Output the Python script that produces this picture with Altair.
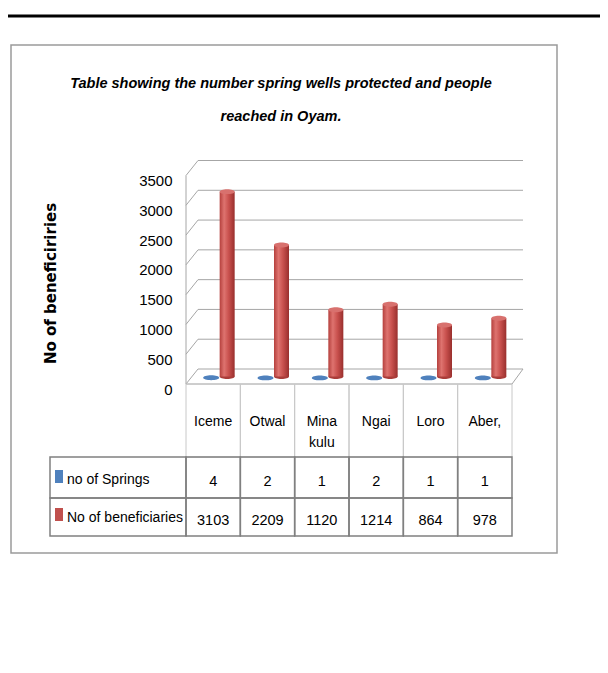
import altair as alt
import pandas as pd

categories = ["Iceme", "Otwal", "Mina kulu", "Ngai", "Loro", "Aber,"]
springs = [4, 2, 1, 2, 1, 1]
beneficiaries = [3103, 2209, 1120, 1214, 864, 978]
series_names = ["no of Springs", "No of beneficiaries"]
y_ticks = [0, 500, 1000, 1500, 2000, 2500, 3000, 3500]
title_lines = ["Table showing the number spring wells protected and people", "reached in Oyam."]
y_title = "No of beneficiriries"

FONT = "Liberation Sans, Arial, sans-serif"
BLUE = "#4f81bd"
RED_TOP = "#d8716e"
RED_BASE = "#a93c39"
GRID = "#a6a6a6"
D = 7.5  # half depth of the 3D floor

df = pd.DataFrame({
    "category": categories,
    "springs": springs,
    "beneficiaries": beneficiaries,
    "label": [c.replace(" ", "\n") for c in categories],
})
ticks_df = pd.DataFrame({"v": y_ticks})
one = pd.DataFrame({"k": [0]})
title_df = pd.DataFrame({"t": ["\n".join(title_lines)]})

xs = alt.Scale(domain=categories, range=[184, 510], paddingInner=0, paddingOuter=0)
ys = alt.Scale(domain=[0, 3500], range=[368.5, 160], nice=False, zero=False)
X = alt.X("category:N", sort=categories, scale=xs, axis=None)

y_axis = alt.Axis(
    values=y_ticks, format="d", orient="left", offset=-178, domain=False, ticks=False, grid=False,
    labelPadding=14, labelOffset=12.5, labelFont=FONT, labelFontSize=15, labelColor="black",
    title=y_title, titleAngle=270, titleX=-136, titleY=275, titleAlign="center",
    titleBaseline="middle", titleFont="DejaVu Sans", titleFontWeight="bold",
    titleFontSize=15, titleColor="black",
)


def Yf(field):
    return alt.Y(field, scale=ys, axis=y_axis)


def Yd(value):
    return alt.Y(datum=value, scale=ys, axis=y_axis)


ELL_R = "M-1,0A1,0.33 0 1,0 1,0A1,0.33 0 1,0 -1,0Z"
ELL_B = "M-1,0A1,0.3 0 1,0 1,0A1,0.3 0 1,0 -1,0Z"

cyl = alt.Gradient(
    gradient="linear", x1=0, x2=1, y1=0, y2=0,
    stops=[alt.GradientStop(offset=0, color="#b5403d"),
           alt.GradientStop(offset=0.3, color="#de736f"),
           alt.GradientStop(offset=0.6, color="#c9514e"),
           alt.GradientStop(offset=1, color="#992f2d")],
)

box = alt.Chart(one).mark_rect(fillOpacity=0, stroke="#9a9a9a", strokeWidth=1.5).encode(
    x=alt.value(3), x2=alt.value(549), y=alt.value(37), y2=alt.value(545))
topline = alt.Chart(one).mark_rule(color="black", strokeWidth=3).encode(
    x=alt.value(0), x2=alt.value(592), y=alt.value(8))
title = alt.Chart(title_df).mark_text(
    font=FONT, fontSize=14.5, fontWeight="bold", fontStyle="italic", lineBreak="\n",
    lineHeight=33, align="center", baseline="alphabetic", color="black").encode(
    x=alt.value(273), y=alt.value(80), text="t:N")

grid_back = alt.Chart(ticks_df).mark_rule(color=GRID, strokeWidth=1, yOffset=-D).encode(
    y=Yf("v:Q"), x=alt.value(190), x2=alt.value(515))
grid_slant = alt.Chart(ticks_df).mark_rule(color=GRID, strokeWidth=1, yOffset=D, y2Offset=-D).encode(
    y=Yf("v:Q"), y2=alt.Y2("v:Q"), x=alt.value(178), x2=alt.value(190))
front_edge = alt.Chart(one).mark_rule(color=GRID, strokeWidth=1, yOffset=D, y2Offset=D).encode(
    y=Yd(0), y2=alt.Y2(datum=3500), x=alt.value(178))
floor_front = alt.Chart(one).mark_rule(color=GRID, strokeWidth=1, yOffset=D).encode(
    y=Yd(0), x=alt.value(178), x2=alt.value(504))
floor_right = alt.Chart(one).mark_rule(color=GRID, strokeWidth=1, yOffset=D, y2Offset=-D).encode(
    y=Yd(0), y2=alt.Y2(datum=0), x=alt.value(504), x2=alt.value(515))

base = alt.Chart(df)
head_cells = base.mark_rect(fillOpacity=0, stroke="#c8c8c8", strokeWidth=1, xOffset=-6, x2Offset=-6).encode(
    x=X, y=alt.value(376), y2=alt.value(449))
row2_cells = base.mark_rect(fillOpacity=0, stroke="#808080", strokeWidth=1.5, xOffset=-6, x2Offset=-6).encode(
    x=X, y=alt.value(449), y2=alt.value(490))
row3_cells = base.mark_rect(fillOpacity=0, stroke="#808080", strokeWidth=1.5, xOffset=-6, x2Offset=-6).encode(
    x=X, y=alt.value(490), y2=alt.value(528))
leg_cell1 = alt.Chart(one).mark_rect(fillOpacity=0, stroke="#808080", strokeWidth=1.5).encode(
    x=alt.value(42), x2=alt.value(178), y=alt.value(449), y2=alt.value(490))
leg_cell2 = alt.Chart(one).mark_rect(fillOpacity=0, stroke="#808080", strokeWidth=1.5).encode(
    x=alt.value(42), x2=alt.value(178), y=alt.value(490), y2=alt.value(528))
sq1 = alt.Chart(one).mark_rect(color=BLUE).encode(
    x=alt.value(47), x2=alt.value(55), y=alt.value(462), y2=alt.value(475))
sq2 = alt.Chart(one).mark_rect(color="#c0504d").encode(
    x=alt.value(47), x2=alt.value(55), y=alt.value(500), y2=alt.value(513))
leg_t1 = alt.Chart(one).mark_text(font=FONT, fontSize=14, align="left", baseline="alphabetic", color="black").encode(
    x=alt.value(59), y=alt.value(476), text=alt.value(series_names[0]))
leg_t2 = alt.Chart(one).mark_text(font=FONT, fontSize=14, align="left", baseline="alphabetic", color="black").encode(
    x=alt.value(59), y=alt.value(514), text=alt.value(series_names[1]))

cat_text = base.mark_text(xOffset=-6, font=FONT, fontSize=14, lineBreak="\n", lineHeight=21,
                          baseline="alphabetic", color="black").encode(
    x=X, y=alt.value(418), text="label:N")
spr_text = base.mark_text(xOffset=-6, font=FONT, fontSize=14.5, baseline="alphabetic", color="black").encode(
    x=X, y=alt.value(478), text=alt.Text("springs:Q", format="d"))
ben_text = base.mark_text(xOffset=-6, font=FONT, fontSize=14.5, baseline="alphabetic", color="black").encode(
    x=X, y=alt.value(517), text=alt.Text("beneficiaries:Q", format="d"))

blue = base.mark_point(shape=ELL_B, size=256, filled=True, fill=BLUE, opacity=1, xOffset=-8, yOffset=1.5).encode(
    x=X, y=Yf("springs:Q"))
red_bottom = base.mark_point(shape=ELL_R, size=225, filled=True, fill=RED_BASE, opacity=1, xOffset=8).encode(
    x=X, y=Yd(0))
red_bar = base.mark_bar(size=15, xOffset=8, x2Offset=8, color=cyl).encode(
    x=X, y=Yf("beneficiaries:Q"))
red_top = base.mark_point(shape=ELL_R, size=225, filled=True, fill=RED_TOP, opacity=1, xOffset=8).encode(
    x=X, y=Yf("beneficiaries:Q"))

chart = alt.layer(
    box, topline, title, grid_back, grid_slant, front_edge, floor_front, floor_right,
    head_cells, row2_cells, row3_cells, leg_cell1, leg_cell2, sq1, sq2, leg_t1, leg_t2,
    cat_text, spr_text, ben_text, blue, red_bottom, red_bar, red_top,
).properties(
    width=592, height=560, autosize=alt.AutoSizeParams(type="none"), padding=0
).configure_view(stroke=None)

chart.save("out.html", embed_options={"renderer": "svg", "actions": False})
